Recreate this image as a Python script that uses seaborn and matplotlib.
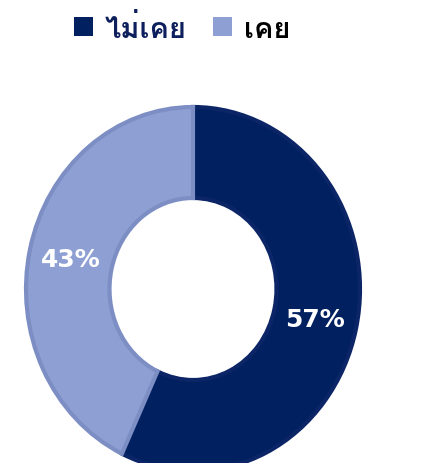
import matplotlib
matplotlib.use("Agg")
import matplotlib.pyplot as plt
from matplotlib import font_manager
from matplotlib.patches import Patch
from matplotlib.ft2font import FT2Font
import seaborn as sns

# data
labels = ["ไม่เคย", "เคย"]
values = [57, 43]
colors = ["#002060", "#8e9fd3"]
edge_colors = ["#0b2566", "#7c8ec4"]
text_colors = ["#0d1f5c", "#000000"]

sns.set_style("white")

# find a font that can draw Thai (prefer a bold face)
thai_family = None
for f in font_manager.fontManager.ttflist:
    try:
        if 0x0E40 in FT2Font(f.fname).get_charmap():
            thai_family = f.name
            if f.weight in (700, "bold"):
                break
    except Exception:
        pass
fams = ([thai_family] if thai_family else []) + ["DejaVu Sans"]
plt.rcParams["font.family"] = fams

fig = plt.figure(figsize=(4.34, 4.64), dpi=100)
ax = fig.add_axes([26 / 434, -8 / 464, 334 / 434, 364 / 464])

wedges, texts, autotexts = ax.pie(
    values, colors=colors, startangle=90, counterclock=False,
    autopct="%d%%", pctdistance=0.75,
    wedgeprops=dict(width=0.5, linewidth=3, clip_on=False),
    textprops=dict(color="white", fontsize=18, fontweight="bold",
                   family="DejaVu Sans"))
for w, ec in zip(wedges, edge_colors):
    w.set_edgecolor(ec)
ax.set_aspect("auto")
ax.set_xlim(-1, 1)
ax.set_ylim(-1, 1)
ax.axis("off")

handles = [Patch(facecolor=c, edgecolor="none") for c in colors]
leg = fig.legend(handles, labels, loc="center", bbox_to_anchor=(182 / 434, 1 - 29 / 464),
                 ncol=2, frameon=False, handlelength=0.65, handleheight=0.65,
                 handletextpad=0.4, columnspacing=0.9,
                 prop=dict(family=fams, size=21, weight="bold"))
for t, c in zip(leg.get_texts(), text_colors):
    t.set_color(c)

fig.savefig("out.png", dpi=100)
